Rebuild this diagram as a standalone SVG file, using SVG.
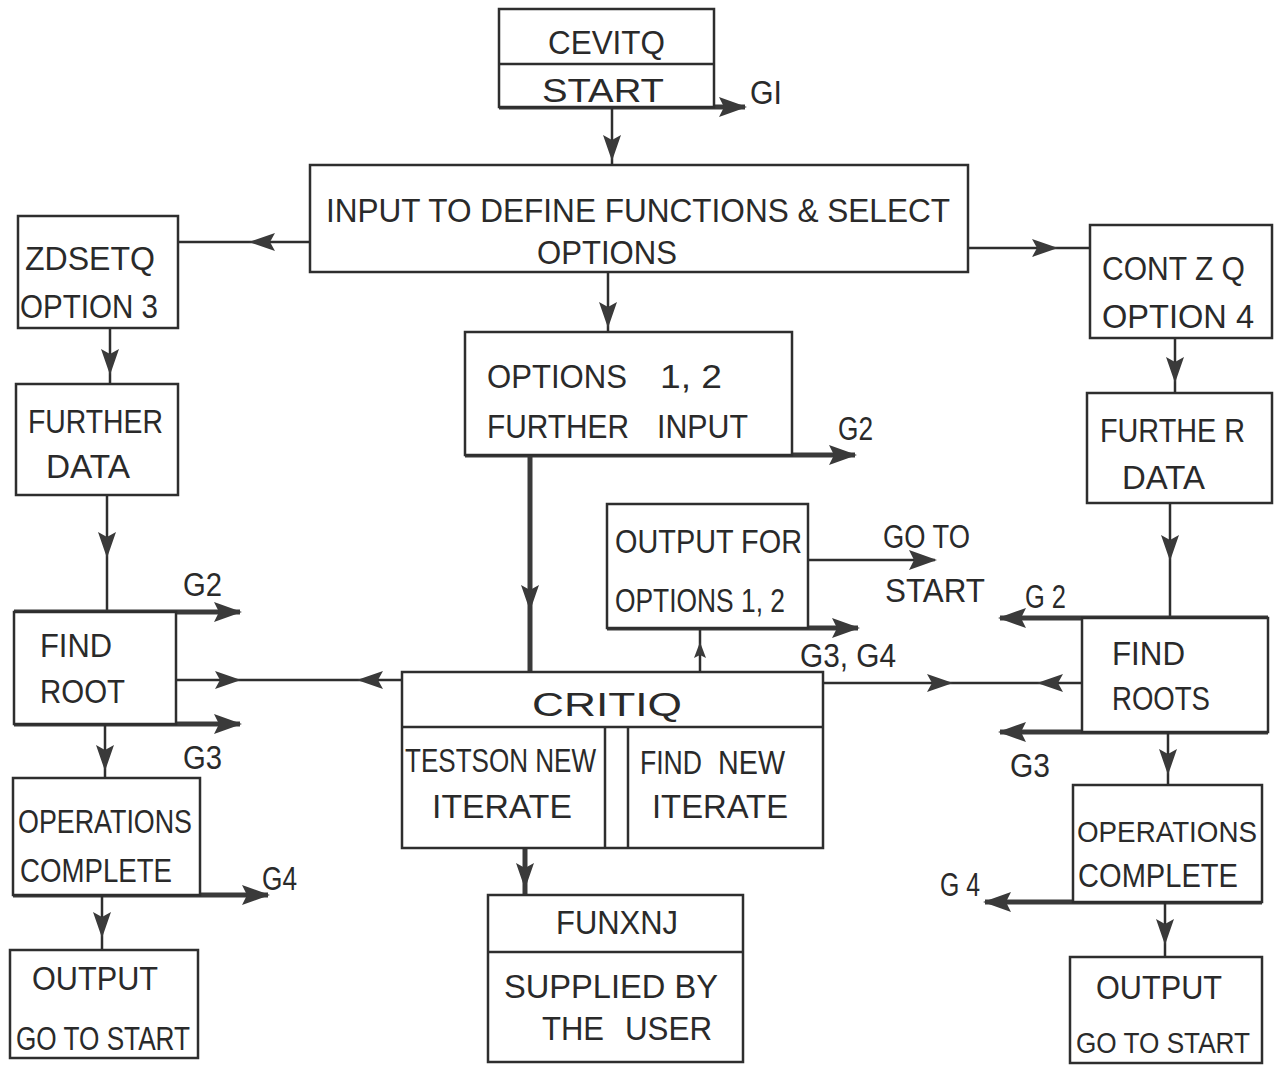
<svg xmlns="http://www.w3.org/2000/svg" width="1282" height="1065" viewBox="0 0 1282 1065">
<style>
.box{fill:#fff;stroke:#2e2e2e;stroke-width:2.5}
.ln{fill:none;stroke:#2e2e2e;stroke-width:2.5}
.tk{fill:none;stroke:#3a3a3a;stroke-width:5}
.t{font-family:"Liberation Sans","DejaVu Sans",sans-serif;font-size:33px;fill:#2a2a2a}
.s{font-size:29px}
</style>
<defs>
<marker id="ah" viewBox="0 0 28 20" refX="26" refY="10" markerWidth="28" markerHeight="20" markerUnits="userSpaceOnUse" orient="auto"><path d="M0,0 L28,10 L0,20 L5,10 z" fill="#3a3a3a"/></marker>
<marker id="am" viewBox="0 0 26 18" refX="13" refY="9" markerWidth="26" markerHeight="18" markerUnits="userSpaceOnUse" orient="auto"><path d="M0,0 L26,9 L0,18 L5,9 z" fill="#3a3a3a"/></marker>
<marker id="as" viewBox="0 0 16 12" refX="8" refY="6" markerWidth="16" markerHeight="12" markerUnits="userSpaceOnUse" orient="auto"><path d="M0,0 L16,6 L0,12 L3,6 z" fill="#3a3a3a"/></marker>
</defs>

<g id="connectors">
<path class="tk" d="M499,107 L745,107" marker-end="url(#ah)"/>
<path class="ln" d="M612,107 L612,148 L612,165" marker-mid="url(#am)"/>
<path class="ln" d="M310,242 L262,242 L178,242" marker-mid="url(#am)"/>
<path class="ln" d="M968,248 L1045,248 L1090,248" marker-mid="url(#am)"/>
<path class="ln" d="M608,272 L608,315 L608,332" marker-mid="url(#am)"/>
<path class="ln" d="M110,328 L110,362 L110,384" marker-mid="url(#am)"/>
<path class="ln" d="M107,495 L107,545 L107,612" marker-mid="url(#am)"/>
<path class="tk" d="M14,612 L240,612" marker-end="url(#ah)"/>
<path class="tk" d="M14,724 L240,724" marker-end="url(#ah)"/>
<path class="ln" d="M176,680 L228,680 L300,680" marker-mid="url(#am)"/>
<path class="ln" d="M403,680 L370,680 L300,680" marker-mid="url(#am)"/>
<path class="ln" d="M105,724 L105,758 L105,778" marker-mid="url(#am)"/>
<path class="tk" d="M13,895 L268,895" marker-end="url(#ah)"/>
<path class="ln" d="M102,895 L102,925 L102,950" marker-mid="url(#am)"/>
<path class="tk" d="M465,455 L855,455" marker-end="url(#ah)"/>
<path class="tk" d="M530,455 L530,598 L530,672" marker-mid="url(#am)"/>
<path class="ln" d="M808,560 L935,560" marker-end="url(#ah)"/>
<path class="tk" d="M607,628 L858,628" marker-end="url(#ah)"/>
<path class="ln" d="M700,672 L700,650 L700,630" marker-mid="url(#as)"/>
<path class="tk" d="M525,848 L525,876 L525,895" marker-mid="url(#am)"/>
<path class="ln" d="M627,776 L607,776" marker-end="url(#as)"/>
<path class="ln" d="M607,787 L627,787" marker-end="url(#as)"/>
<path class="ln" d="M823,683 L940,683 L960,683" marker-mid="url(#am)"/>
<path class="ln" d="M1082,683 L1050,683 L960,683" marker-mid="url(#am)"/>
<path class="ln" d="M1175,338 L1175,370 L1175,393" marker-mid="url(#am)"/>
<path class="ln" d="M1170,503 L1170,548 L1170,618" marker-mid="url(#am)"/>
<path class="tk" d="M1268,618 L1000,618" marker-end="url(#ah)"/>
<path class="tk" d="M1268,732 L1000,732" marker-end="url(#ah)"/>
<path class="ln" d="M1168,732 L1168,762 L1168,785" marker-mid="url(#am)"/>
<path class="tk" d="M1262,902 L985,902" marker-end="url(#ah)"/>
<path class="ln" d="M1165,902 L1165,932 L1165,957" marker-mid="url(#am)"/>
</g>

<g id="cevitq">
<rect class="box" x="499" y="9" width="215" height="98"/>
<line class="ln" x1="499" y1="64" x2="714" y2="64"/>
<text class="t" x="548" y="54" textLength="117" lengthAdjust="spacingAndGlyphs">CEVITQ</text>
<text class="t" x="542" y="102" textLength="122" lengthAdjust="spacingAndGlyphs">START</text>
</g>
<g id="label-g1"><text class="t" x="750" y="104" textLength="32" lengthAdjust="spacingAndGlyphs">GI</text></g>

<g id="input">
<rect class="box" x="310" y="165" width="658" height="107"/>
<text class="t" x="326" y="222" textLength="624" lengthAdjust="spacingAndGlyphs">INPUT TO DEFINE FUNCTIONS &amp; SELECT</text>
<text class="t" x="537" y="264" textLength="140" lengthAdjust="spacingAndGlyphs">OPTIONS</text>
</g>

<g id="zdsetq">
<rect class="box" x="18" y="216" width="160" height="112"/>
<text class="t" x="25" y="270" textLength="130" lengthAdjust="spacingAndGlyphs">ZDSETQ</text>
<text class="t" x="20" y="318" textLength="138" lengthAdjust="spacingAndGlyphs">OPTION 3</text>
</g>

<g id="further-data-left">
<rect class="box" x="16" y="384" width="162" height="111"/>
<text class="t" x="28" y="433" textLength="135" lengthAdjust="spacingAndGlyphs">FURTHER</text>
<text class="t" x="46" y="478" textLength="84" lengthAdjust="spacingAndGlyphs">DATA</text>
</g>

<g id="find-root">
<rect class="box" x="14" y="612" width="162" height="112"/>
<text class="t" x="40" y="657" textLength="72" lengthAdjust="spacingAndGlyphs">FIND</text>
<text class="t" x="40" y="703" textLength="85" lengthAdjust="spacingAndGlyphs">ROOT</text>
</g>
<g id="labels-left">
<text class="t" x="183" y="596" textLength="39" lengthAdjust="spacingAndGlyphs">G2</text>
<text class="t" x="183" y="769" textLength="39" lengthAdjust="spacingAndGlyphs">G3</text>
<text class="t" x="262" y="890" textLength="35" lengthAdjust="spacingAndGlyphs">G4</text>
</g>

<g id="ops-left">
<rect class="box" x="13" y="778" width="187" height="117"/>
<text class="t" x="18" y="833" textLength="174" lengthAdjust="spacingAndGlyphs">OPERATIONS</text>
<text class="t" x="20" y="882" textLength="152" lengthAdjust="spacingAndGlyphs">COMPLETE</text>
</g>

<g id="output-left">
<rect class="box" x="10" y="950" width="188" height="108"/>
<text class="t" x="32" y="990" textLength="126" lengthAdjust="spacingAndGlyphs">OUTPUT</text>
<text class="t" x="16" y="1050" textLength="174" lengthAdjust="spacingAndGlyphs">GO TO START</text>
</g>

<g id="options12">
<rect class="box" x="465" y="332" width="327" height="123"/>
<text class="t" x="487" y="388" textLength="140" lengthAdjust="spacingAndGlyphs">OPTIONS</text>
<text class="t" x="660" y="388" textLength="62" lengthAdjust="spacingAndGlyphs">1, 2</text>
<text class="t" x="487" y="438" textLength="142" lengthAdjust="spacingAndGlyphs">FURTHER</text>
<text class="t" x="657" y="438" textLength="91" lengthAdjust="spacingAndGlyphs">INPUT</text>
</g>
<g id="label-g2-center"><text class="t" x="838" y="440" textLength="35" lengthAdjust="spacingAndGlyphs">G2</text></g>

<g id="output-options">
<rect class="box" x="607" y="504" width="201" height="124"/>
<text class="t" x="615" y="553" textLength="187" lengthAdjust="spacingAndGlyphs">OUTPUT FOR</text>
<text class="t" x="615" y="612" textLength="170" lengthAdjust="spacingAndGlyphs">OPTIONS 1, 2</text>
</g>
<g id="labels-center">
<text class="t" x="883" y="548" textLength="87" lengthAdjust="spacingAndGlyphs">GO TO</text>
<text class="t" x="885" y="602" textLength="100" lengthAdjust="spacingAndGlyphs">START</text>
<text class="t" x="800" y="667" textLength="96" lengthAdjust="spacingAndGlyphs">G3, G4</text>
</g>

<g id="critiq">
<rect class="box" x="402" y="672" width="421" height="176"/>
<line class="ln" x1="402" y1="727" x2="823" y2="727"/>
<line class="ln" x1="605" y1="727" x2="605" y2="848"/>
<line class="ln" x1="628" y1="727" x2="628" y2="848"/>
<text class="t" x="532" y="716" textLength="150" lengthAdjust="spacingAndGlyphs">CRITIQ</text>
<text class="t" x="405" y="772" textLength="191" lengthAdjust="spacingAndGlyphs">TESTSON NEW</text>
<text class="t" x="432" y="818" textLength="140" lengthAdjust="spacingAndGlyphs">ITERATE</text>
<text class="t" x="640" y="774" textLength="62" lengthAdjust="spacingAndGlyphs">FIND</text>
<text class="t" x="718" y="774" textLength="67" lengthAdjust="spacingAndGlyphs">NEW</text>
<text class="t" x="652" y="818" textLength="136" lengthAdjust="spacingAndGlyphs">ITERATE</text>
</g>

<g id="funxnj">
<rect class="box" x="488" y="895" width="255" height="167"/>
<line class="ln" x1="488" y1="952" x2="743" y2="952"/>
<text class="t" x="556" y="934" textLength="122" lengthAdjust="spacingAndGlyphs">FUNXNJ</text>
<text class="t" x="504" y="998" textLength="214" lengthAdjust="spacingAndGlyphs">SUPPLIED BY</text>
<text class="t" x="542" y="1040" textLength="62" lengthAdjust="spacingAndGlyphs">THE</text>
<text class="t" x="625" y="1040" textLength="87" lengthAdjust="spacingAndGlyphs">USER</text>
</g>

<g id="contzq">
<rect class="box" x="1090" y="225" width="182" height="113"/>
<text class="t" x="1102" y="280" textLength="143" lengthAdjust="spacingAndGlyphs">CONT Z Q</text>
<text class="t" x="1102" y="328" textLength="152" lengthAdjust="spacingAndGlyphs">OPTION 4</text>
</g>

<g id="further-data-right">
<rect class="box" x="1087" y="393" width="185" height="110"/>
<text class="t" x="1100" y="442" textLength="145" lengthAdjust="spacingAndGlyphs">FURTHE R</text>
<text class="t" x="1122" y="489" textLength="83" lengthAdjust="spacingAndGlyphs">DATA</text>
</g>

<g id="find-roots">
<rect class="box" x="1082" y="618" width="186" height="114"/>
<text class="t" x="1112" y="665" textLength="73" lengthAdjust="spacingAndGlyphs">FIND</text>
<text class="t" x="1112" y="710" textLength="98" lengthAdjust="spacingAndGlyphs">ROOTS</text>
</g>
<g id="labels-right">
<text class="t" x="1025" y="608" textLength="41" lengthAdjust="spacingAndGlyphs">G 2</text>
<text class="t" x="1010" y="777" textLength="40" lengthAdjust="spacingAndGlyphs">G3</text>
<text class="t" x="940" y="896" textLength="40" lengthAdjust="spacingAndGlyphs">G 4</text>
</g>

<g id="ops-right">
<rect class="box" x="1073" y="785" width="189" height="117"/>
<text class="t s" x="1077" y="842" textLength="180" lengthAdjust="spacingAndGlyphs">OPERATIONS</text>
<text class="t" x="1078" y="887" textLength="160" lengthAdjust="spacingAndGlyphs">COMPLETE</text>
</g>

<g id="output-right">
<rect class="box" x="1070" y="957" width="192" height="106"/>
<text class="t" x="1096" y="999" textLength="126" lengthAdjust="spacingAndGlyphs">OUTPUT</text>
<text class="t s" x="1076" y="1053" textLength="174" lengthAdjust="spacingAndGlyphs">GO TO START</text>
</g>
</svg>
